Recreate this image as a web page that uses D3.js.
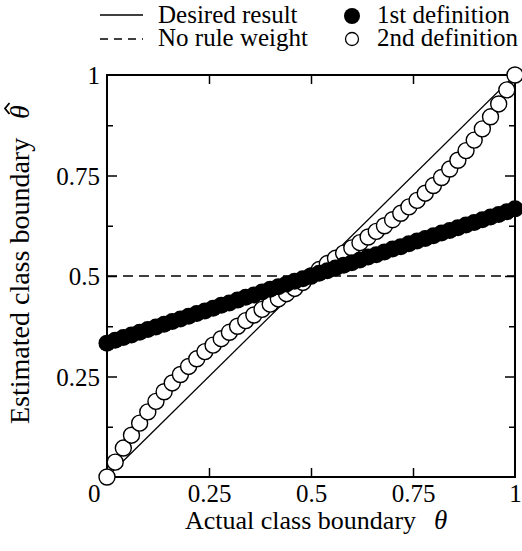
<!DOCTYPE html>
<html>
<head>
<meta charset="utf-8">
<script src="https://cdn.jsdelivr.net/npm/d3@7"></script>
<style>
  body { margin: 0; background: #fff; }
</style>
</head>
<body>
<div id="Chart"></div>
<script>
var SERIF = '"Liberation Serif", "Times New Roman", serif';

// actual boundary theta, step 0.02
var thetas = [0, 0.02, 0.04, 0.06, 0.08, 0.10, 0.12, 0.14, 0.16, 0.18, 0.20,
              0.22, 0.24, 0.26, 0.28, 0.30, 0.32, 0.34, 0.36, 0.38, 0.40,
              0.42, 0.44, 0.46, 0.48, 0.50, 0.52, 0.54, 0.56, 0.58, 0.60,
              0.62, 0.64, 0.66, 0.68, 0.70, 0.72, 0.74, 0.76, 0.78, 0.80,
              0.82, 0.84, 0.86, 0.88, 0.90, 0.92, 0.94, 0.96, 0.98, 1.00];

// estimated boundary, 1st definition (filled)
var firstDef = [0.333, 0.340, 0.347, 0.353, 0.360, 0.367, 0.373, 0.380, 0.387, 0.393, 0.400,
                0.407, 0.413, 0.420, 0.427, 0.433, 0.440, 0.447, 0.453, 0.460, 0.467,
                0.473, 0.480, 0.487, 0.493, 0.500, 0.507, 0.513, 0.520, 0.527, 0.533,
                0.540, 0.547, 0.553, 0.560, 0.567, 0.573, 0.580, 0.587, 0.593, 0.600,
                0.607, 0.613, 0.620, 0.627, 0.633, 0.640, 0.647, 0.653, 0.660, 0.667];

// estimated boundary, 2nd definition (open)
var secondDef = [0, 0.037, 0.072, 0.104, 0.134, 0.162, 0.188, 0.212, 0.234, 0.255, 0.275,
                 0.294, 0.312, 0.328, 0.344, 0.360, 0.375, 0.389, 0.403, 0.417, 0.430,
                 0.443, 0.456, 0.469, 0.484, 0.500, 0.516, 0.531, 0.544, 0.557, 0.570,
                 0.583, 0.597, 0.611, 0.625, 0.640, 0.656, 0.672, 0.688, 0.706, 0.725,
                 0.745, 0.766, 0.788, 0.812, 0.838, 0.866, 0.896, 0.928, 0.963, 1.000];

var majorTicks = [0, 0.25, 0.5, 0.75, 1];
var minorTicks = [0.125, 0.375, 0.625, 0.875];
var tickLabels = ["0", "0.25", "0.5", "0.75", "1"];

var margin = {top: 75, right: 7, bottom: 74, left: 107},
    width = 522 - margin.left - margin.right,
    height = 551 - margin.top - margin.bottom;

var svg = d3.select("#Chart")
            .append("svg")
            .attr("width", 522)
            .attr("height", 551);
var g = svg.append("g")
           .attr("transform", "translate(" + margin.left + "," + margin.top + ")");

var x = d3.scaleLinear().domain([0, 1]).range([0, width]);
var y = d3.scaleLinear().domain([0, 1]).range([height, 0]);

var pts1 = thetas.map((t, i) => ({t: t, v: firstDef[i]}));
var pts2 = thetas.map((t, i) => ({t: t, v: secondDef[i]}));

// reference lines
g.append("line")
    .attr("x1", x(0)).attr("y1", y(0))
    .attr("x2", x(1)).attr("y2", y(1))
    .attr("stroke", "#000").attr("stroke-width", 1.3);
g.append("line")
    .attr("x1", x(0)).attr("y1", y(0.5))
    .attr("x2", x(1)).attr("y2", y(0.5))
    .attr("stroke", "#000").attr("stroke-width", 1.3)
    .attr("stroke-dasharray", "10,6");

// axes (ticks inside)
function styleAxis(sel) {
    sel.attr("font-family", null);
    sel.select(".domain").remove();
    sel.selectAll("line").attr("stroke", "#000").attr("stroke-width", 1.5);
    sel.selectAll("text")
       .style("font-family", SERIF)
       .style("font-size", "25px")
       .attr("fill", "#000");
}
var fmt = (d) => tickLabels[majorTicks.indexOf(d)];

var xb = g.append("g").attr("transform", "translate(0," + height + ")")
    .call(d3.axisBottom(x).tickValues(majorTicks).tickFormat(fmt).tickSizeInner(-9));
styleAxis(xb);
xb.selectAll(".tick text").attr("y", 25).attr("dy", 0);
xb.selectAll(".tick").filter(d => d == 0).select("text")
    .attr("text-anchor", "end").attr("x", -7);
xb.selectAll(".tick").filter(d => d == 0 || d == 1).select("line").remove();

var xt = g.append("g")
    .call(d3.axisTop(x).tickValues([0.25, 0.5, 0.75]).tickFormat("").tickSizeInner(-9));
styleAxis(xt);

var yl = g.append("g")
    .call(d3.axisLeft(y).tickValues([0.25, 0.5, 0.75, 1]).tickFormat(fmt).tickSizeInner(-10));
styleAxis(yl);
yl.selectAll(".tick text").attr("x", -7).attr("dy", "0.35em");
yl.selectAll(".tick").filter(d => d == 1).select("line").remove();
var ylm = g.append("g")
    .call(d3.axisLeft(y).tickValues(minorTicks).tickFormat("").tickSizeInner(-6));
styleAxis(ylm);

var yr = g.append("g").attr("transform", "translate(" + width + ",0)")
    .call(d3.axisRight(y).tickValues([0.25, 0.5, 0.75]).tickFormat("").tickSizeInner(-10));
styleAxis(yr);
var yrm = g.append("g").attr("transform", "translate(" + width + ",0)")
    .call(d3.axisRight(y).tickValues(minorTicks).tickFormat("").tickSizeInner(-6));
styleAxis(yrm);

// frame
g.append("rect")
    .attr("width", width).attr("height", height)
    .attr("fill", "none").attr("stroke", "#000").attr("stroke-width", 2);

// 2nd definition: open circles
g.selectAll(".open")
    .data(pts2)
    .enter().append("circle")
    .attr("class", "open")
    .attr("cx", d => x(d.t))
    .attr("cy", d => y(d.v))
    .attr("r", 8)
    .attr("fill", "#fff")
    .attr("stroke", "#000")
    .attr("stroke-width", 1.4);

// 1st definition: filled circles
g.selectAll(".filled")
    .data(pts1)
    .enter().append("circle")
    .attr("class", "filled")
    .attr("cx", d => x(d.t))
    .attr("cy", d => y(d.v))
    .attr("r", 8.5)
    .attr("fill", "#000");

// axis titles
svg.append("text")
    .attr("x", 185).attr("y", 529)
    .style("font-family", SERIF).style("font-size", "26px")
    .text("Actual class boundary");
svg.append("text")
    .attr("x", 434).attr("y", 529)
    .style("font-family", SERIF).style("font-size", "27px").style("font-style", "italic")
    .text("θ");

svg.append("text")
    .attr("transform", "translate(29,424) rotate(-90)")
    .style("font-family", SERIF).style("font-size", "28px")
    .text("Estimated class boundary");
var hat = svg.append("g").attr("transform", "translate(29,119) rotate(-90)");
hat.append("text")
    .style("font-family", SERIF).style("font-size", "28px").style("font-style", "italic")
    .text("θ");
hat.append("path")
    .attr("d", "M5,-19.5 L10.5,-24 L16,-19.5")
    .attr("fill", "none").attr("stroke", "#000").attr("stroke-width", 1.8);

// legend
var legend = svg.append("g");
legend.append("line")
    .attr("x1", 100).attr("x2", 143).attr("y1", 15).attr("y2", 15)
    .attr("stroke", "#000").attr("stroke-width", 1.3);
legend.append("line")
    .attr("x1", 100).attr("x2", 143).attr("y1", 39).attr("y2", 39)
    .attr("stroke", "#000").attr("stroke-width", 1.3)
    .attr("stroke-dasharray", "8,6");
legend.append("circle")
    .attr("cx", 352).attr("cy", 16).attr("r", 8).attr("fill", "#000");
legend.append("circle")
    .attr("cx", 352).attr("cy", 39).attr("r", 6.5)
    .attr("fill", "#fff").attr("stroke", "#000").attr("stroke-width", 1.3);

var legendText = [["Desired result", 158, 23], ["No rule weight", 158, 46],
                  ["1st definition", 377, 23], ["2nd definition", 377, 46]];
legend.selectAll(".lt")
    .data(legendText)
    .enter().append("text")
    .attr("class", "lt")
    .attr("x", d => d[1]).attr("y", d => d[2])
    .style("font-family", SERIF).style("font-size", "25px")
    .text(d => d[0]);
</script>
</body>
</html>
